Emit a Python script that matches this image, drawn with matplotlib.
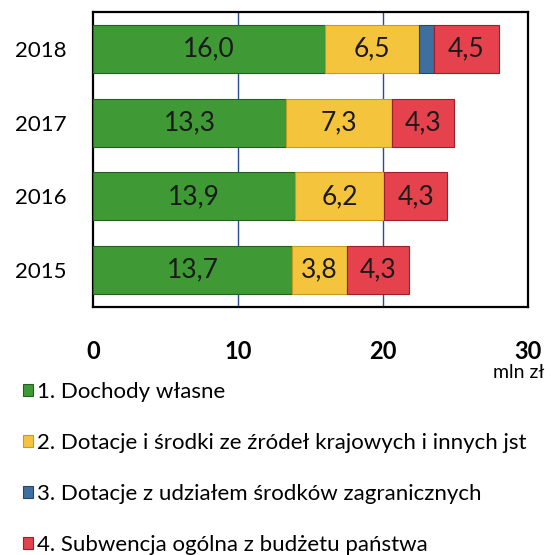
import numpy as np
import matplotlib
matplotlib.use("Agg")
from matplotlib import pyplot as plt

plt.rcParams['font.family'] = ['Lato', 'DejaVu Sans']

# Daten
years = ["2015", "2016", "2017", "2018"]
dochody = [13.7, 13.9, 13.3, 16.0]
dotacje_kraj = [3.8, 6.2, 7.3, 6.5]
dotacje_zagr = [0.0, 0.0, 0.0, 1.0]
subwencja = [4.3, 4.3, 4.3, 4.5]

series = [dochody, dotacje_kraj, dotacje_zagr, subwencja]
labels = ["1. Dochody własne",
          "2. Dotacje i środki ze źródeł krajowych i innych jst",
          "3. Dotacje z udziałem środków zagranicznych",
          "4. Subwencja ogólna z budżetu państwa"]
colors = ["#3f9a36", "#f4c53c", "#3e6f9e", "#e5424d"]
edges = ["#24601f", "#c99a1c", "#24466b", "#9e1f2a"]

fig = plt.figure(figsize=(5.59, 5.55), dpi=100)
ax = fig.add_axes([0.1664, 0.4468, 0.7781, 0.5316])

y = np.arange(len(years))
left = np.zeros(len(years))
handles = []
for vals, col, ec in zip(series, colors, edges):
    vals = np.array(vals)
    bars = ax.barh(y, vals, left=left, height=0.65, color=col,
                   edgecolor=ec, linewidth=0.8, zorder=3)
    handles.append(bars)
    # Werte in die Balken
    for yi, l, v in zip(y, left, vals):
        if v >= 2:
            ax.text(l + v / 2, yi, f"{v:.1f}".replace(".", ","),
                    ha="center", va="center", fontsize=19, color="#1a1a1a",
                    zorder=4)
    left = left + vals

# Achsen
ax.set_xlim(0, 30)
ax.set_ylim(-0.5, 3.5)
ax.set_xticks([0, 10, 20, 30])
ax.set_xticklabels(["0", "10", "20", "30"], fontsize=17, fontweight="bold")
ax.set_yticks(y)
ax.set_yticklabels(years, fontsize=16)
ax.tick_params(axis="x", length=0, pad=24)
ax.tick_params(axis="y", length=0, pad=19)
for xg in [10, 20]:
    ax.axvline(xg, color="#2a4a9a", linewidth=1, zorder=1)
for s in ax.spines.values():
    s.set_linewidth(1.6)
    s.set_color("black")

fig.text(519 / 559, 1 - 372 / 555, "mln zł", ha="center", va="center",
         fontsize=14)

# Legende
fig.legend(handles, labels, loc="upper left",
           bbox_to_anchor=(0.041, 1 - 382 / 555), frameon=False,
           fontsize=16, handlelength=0.45, handleheight=0.45,
           handletextpad=0.18, labelspacing=1.39, borderpad=0,
           borderaxespad=0)

fig.savefig("out.png", dpi=100)
